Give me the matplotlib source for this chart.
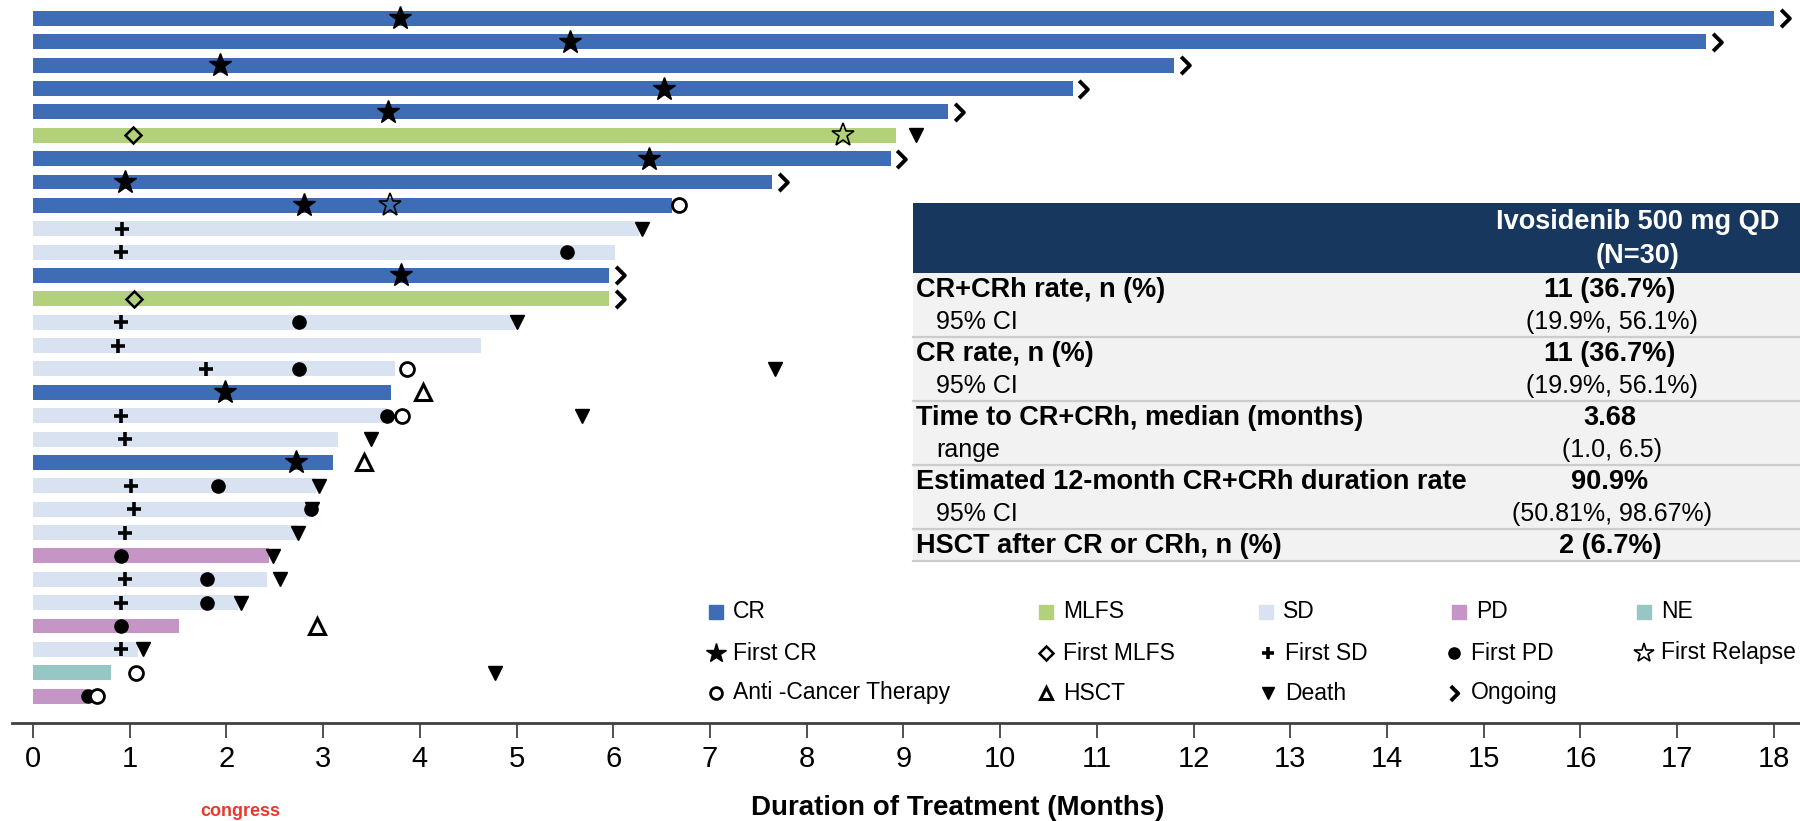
import matplotlib
matplotlib.use("Agg")
import matplotlib.pyplot as plt
from matplotlib.path import Path

plt.rcParams['font.family'] = ['Liberation Sans', 'DejaVu Sans']

# best response per patient, top row first
best_response = ['CR', 'CR', 'CR', 'CR', 'CR', 'MLFS', 'CR', 'CR', 'CR', 'SD',
                 'SD', 'CR', 'MLFS', 'SD', 'SD', 'SD', 'CR', 'SD', 'SD', 'CR',
                 'SD', 'SD', 'SD', 'PD', 'SD', 'SD', 'PD', 'SD', 'NE', 'PD']
# months on treatment
duration = [18.0, 17.3, 11.8, 10.75, 9.46, 8.92, 8.87, 7.64, 6.61, 6.27,
            6.02, 5.96, 5.96, 4.98, 4.63, 3.74, 3.70, 3.66, 3.15, 3.10,
            2.93, 2.86, 2.73, 2.44, 2.42, 2.12, 1.51, 1.09, 0.81, 0.56]
ongoing = [1, 2, 3, 4, 5, 7, 8, 12, 13]

# events: row -> month
first_cr = {1: 3.79, 2: 5.55, 3: 1.93, 4: 6.52, 5: 3.67, 7: 6.37, 8: 0.95,
            9: 2.80, 12: 3.81, 17: 1.99, 20: 2.72}
first_mlfs = {6: 1.03, 13: 1.04}
first_sd = {10: 0.92, 11: 0.91, 14: 0.91, 15: 0.88, 16: 1.79, 18: 0.91,
            19: 0.95, 21: 1.01, 22: 1.04, 23: 0.95, 25: 0.95, 26: 0.91, 28: 0.91}
first_pd = {11: 5.52, 14: 2.75, 16: 2.75, 18: 3.66, 21: 1.91, 22: 2.87,
            24: 0.91, 25: 1.80, 26: 1.80, 27: 0.91, 30: 0.57}
first_relapse = {6: 8.38, 9: 3.69}
anti_cancer = {9: 6.68, 16: 3.87, 18: 3.82, 29: 1.07, 30: 0.66}
hsct = {17: 4.03, 20: 3.42, 27: 2.94}
death = {6: 9.13, 10: 6.30, 14: 5.00, 16: 7.67, 18: 5.68, 19: 3.50, 21: 2.96,
         22: 2.88, 23: 2.74, 24: 2.48, 25: 2.55, 26: 2.15, 28: 1.14, 29: 4.78}

months = list(range(0, 19))

# summary table
group_labels = ['CR+CRh rate, n (%)', 'CR rate, n (%)',
                'Time to CR+CRh, median (months)',
                'Estimated 12-month CR+CRh duration rate',
                'HSCT after CR or CRh, n (%)']
group_values = ['11 (36.7%)', '11 (36.7%)', '3.68', '90.9%', '2 (6.7%)']
sub_labels = ['95% CI', '95% CI', 'range', '95% CI', None]
sub_values = ['(19.9%, 56.1%)', '(19.9%, 56.1%)', '(1.0, 6.5)',
              '(50.81%, 98.67%)', None]

colors = {'CR': '#3E6DB5', 'MLFS': '#B3D07A', 'SD': '#D9E2F1',
          'PD': '#C495C5', 'NE': '#96C7C4'}

chevron = Path([(-0.5, 1.0), (0.5, 0.0), (-0.5, -1.0)],
               [Path.MOVETO, Path.LINETO, Path.LINETO])

styles = {
    'First CR': dict(marker='*', ms=17, color='black', mec='black'),
    'First MLFS': dict(marker='D', ms=8.5, mfc='none', mec='black', mew=1.8),
    'First SD': dict(marker='+', ms=10, color='black', mew=2.6),
    'First PD': dict(marker='o', ms=9.5, color='black'),
    'First Relapse': dict(marker='*', ms=17, mfc='none', mec='black', mew=1.2),
    'Anti -Cancer Therapy': dict(marker='o', ms=10, mfc='white', mec='black', mew=2),
    'HSCT': dict(marker='^', ms=11, mfc='none', mec='black', mew=2.2),
    'Death': dict(marker='v', ms=10, color='black'),
    'Ongoing': dict(marker=chevron, ms=12.5, mfc='none', mec='black', mew=2.8),
}

W, H = 1800, 821
fig = plt.figure(figsize=(W / 100, H / 100), dpi=100)

ax = fig.add_axes([0, 1 - 723 / H, 1, 723 / H])
rows = list(range(1, len(duration) + 1))
ax.barh(rows, duration, height=0.64,
        color=[colors[r] for r in best_response], zorder=1)

events = [('First CR', first_cr), ('First MLFS', first_mlfs),
          ('First SD', first_sd), ('First PD', first_pd),
          ('First Relapse', first_relapse), ('Anti -Cancer Therapy', anti_cancer),
          ('HSCT', hsct), ('Death', death)]
for name, ev in events:
    ax.plot(list(ev.values()), list(ev.keys()), ls='none', zorder=3, **styles[name])

ax.plot([duration[r - 1] + 0.11 for r in ongoing], ongoing, ls='none',
        zorder=3, clip_on=False, **styles['Ongoing'])

ax.set_xlim(-0.341, 18.27)
ax.set_ylim(31.15, 0.213)
ax.set_yticks([])
ax.set_xticks(months)
ax.tick_params(axis='x', direction='out', length=11, width=1.2,
               colors='#333333', labelcolor='black', labelsize=21, pad=5)
for s in ['top', 'left', 'right']:
    ax.spines[s].set_visible(False)
ax.spines['bottom'].set_color('#404040')
ax.spines['bottom'].set_linewidth(2)
ax.spines['bottom'].set_bounds(-0.22, 18.27)

fig.text(958 / W, 1 - 808 / H, 'Duration of Treatment (Months)',
         ha='center', va='center', fontsize=20, fontweight='bold')
fig.text(200 / W, 1 - 820 / H, 'congress', ha='left', va='bottom',
         fontsize=13, fontweight='bold', color='#E8392B')

# overlay in pixel coordinates for the table and legend
lay = fig.add_axes([0, 0, 1, 1])
lay.set_xlim(0, W)
lay.set_ylim(H, 0)
lay.axis('off')

tx0, tx1 = 913, 1800
lay.add_patch(plt.Rectangle((tx0, 203), tx1 - tx0, 70, color='#17375E', lw=0))
lay.text(1638, 222, 'Ivosidenib 500 mg QD', color='white', fontsize=19.5,
         fontweight='bold', ha='center', va='center')
lay.text(1638, 256, '(N=30)', color='white', fontsize=19.5,
         fontweight='bold', ha='center', va='center')

top = 273
for i, lab in enumerate(group_labels):
    gh = 64 if sub_labels[i] else 32
    lay.add_patch(plt.Rectangle((tx0, top), tx1 - tx0, gh, color='#F2F2F2', lw=0))
    lay.text(916, top + 17, lab, fontsize=19.5, fontweight='bold', va='center')
    lay.text(1610, top + 17, group_values[i], fontsize=19.5, fontweight='bold',
             ha='center', va='center')
    if sub_labels[i]:
        lay.text(936, top + 49, sub_labels[i], fontsize=18, va='center')
        lay.text(1612, top + 49, sub_values[i], fontsize=18,
                 ha='center', va='center')
    top += gh
    lay.plot([tx0, tx1], [top, top], color='#CCCCCC', lw=1.6)

# legend
legend_rows = [
    [('CR', 716), ('MLFS', 1046), ('SD', 1266), ('PD', 1459), ('NE', 1644)],
    [('First CR', 716), ('First MLFS', 1046), ('First SD', 1268),
     ('First PD', 1454), ('First Relapse', 1644)],
    [('Anti -Cancer Therapy', 716), ('HSCT', 1046), ('Death', 1268),
     ('Ongoing', 1454)],
]
for ly, items in zip([612, 653, 693], legend_rows):
    for name, lx in items:
        if name in colors:
            lay.plot(lx, ly, marker='s', ms=10, color=colors[name], ls='none')
        else:
            st = dict(styles[name])
            st['ms'] = st['ms'] * 0.85
            lay.plot(lx, ly, ls='none', **st)
        lay.text(lx + 17, ly, name, fontsize=16.5, va='center')

fig.savefig('out.png', dpi=100)
